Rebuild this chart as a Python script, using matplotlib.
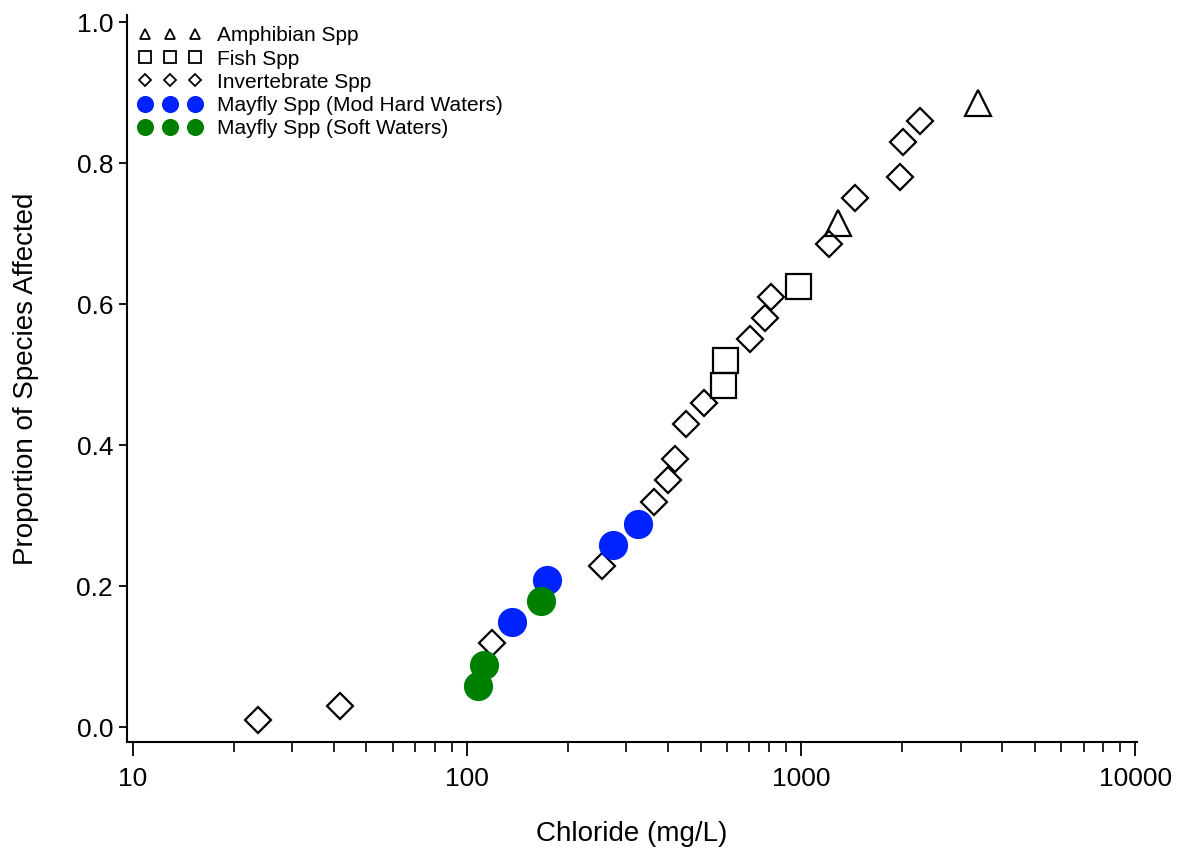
import matplotlib.pyplot as plt
from matplotlib import font_manager
from matplotlib.ticker import LogLocator, NullFormatter, FixedLocator, FixedFormatter

# data (chloride mg/L, proportion affected)
amph_x = [1291, 3390]
amph_y = [0.715, 0.885]

fish_x = [584, 592, 979]
fish_y = [0.485, 0.52, 0.625]

inv_x = [23.7, 41.7, 119, 253, 363, 400, 420, 453, 513, 703, 780, 813, 1213, 1452, 1978, 2019, 2270]
inv_y = [0.01, 0.03, 0.12, 0.228, 0.32, 0.35, 0.38, 0.43, 0.46, 0.55, 0.58, 0.61, 0.685, 0.75, 0.78, 0.83, 0.86]

hard_x = [136, 173, 273, 325]
hard_y = [0.149, 0.209, 0.258, 0.288]

soft_x = [108, 112, 166]
soft_y = [0.058, 0.088, 0.179]

x_ticks = [10, 100, 1000, 10000]
x_labels = ["10", "100", "1000", "10000"]
y_ticks = [0.0, 0.2, 0.4, 0.6, 0.8, 1.0]

names = [f.name for f in font_manager.fontManager.ttflist]
font = "Liberation Sans Narrow" if "Liberation Sans Narrow" in names else "Liberation Sans"
plt.rcParams['font.family'] = [font, 'DejaVu Sans']

fig = plt.figure(figsize=(11.88, 8.56), dpi=100)
ax = fig.add_axes([0.1069, 0.1332, 0.850, 0.8493])

blue = "#0022ff"
green = "#008000"
mew = 1.6

ax.plot(amph_x, amph_y, "^", ms=19, mfc="white", mec="black", mew=mew, label="Amphibian Spp", zorder=3)
ax.plot(fish_x, fish_y, "s", ms=18, mfc="none", mec="black", mew=mew, label="Fish Spp", zorder=3)
ax.plot(inv_x, inv_y, "D", ms=13.5, mfc="none", mec="black", mew=mew, label="Invertebrate Spp", zorder=3)
ax.plot(hard_x, hard_y, "o", ms=21, mfc=blue, mec=blue, mew=0, label="Mayfly Spp (Mod Hard Waters)", zorder=4)
ax.plot(soft_x, soft_y, "o", ms=21, mfc=green, mec=green, mew=0, label="Mayfly Spp (Soft Waters)", zorder=4)

ax.set_xscale("log")
ax.set_xlim(9.6, 10100)
ax.set_ylim(-0.021, 1.01)

ax.xaxis.set_major_locator(FixedLocator(x_ticks))
ax.xaxis.set_major_formatter(FixedFormatter(x_labels))
ax.xaxis.set_minor_locator(LogLocator(base=10, subs=range(2, 10)))
ax.xaxis.set_minor_formatter(NullFormatter())
ax.set_yticks(y_ticks)
ax.set_yticklabels([f"{v:.1f}" for v in y_ticks])

for s in ["top", "right"]:
    ax.spines[s].set_visible(False)
for s in ["left", "bottom"]:
    ax.spines[s].set_linewidth(1.5)

ax.tick_params(axis="both", which="major", labelsize=19, width=1.3, direction="out")
ax.tick_params(axis="x", which="major", length=10, pad=8)
ax.tick_params(axis="x", which="minor", length=7, width=1.2)
ax.tick_params(axis="y", which="major", length=6, pad=4)

ax.set_xlabel("Chloride (mg/L)", fontsize=20, va="center")
ax.set_ylabel("Proportion of Species Affected", fontsize=20, va="center")
ax.xaxis.set_label_coords(0.5, -0.127)
ax.yaxis.set_label_coords(-0.10, 0.50)

leg = ax.legend(loc="upper left", bbox_to_anchor=(0.0, 1.0), frameon=False, numpoints=3,
                fontsize=15, handlelength=3.0, handletextpad=0.75, labelspacing=0.2,
                borderaxespad=0.15)
leg_sizes = [7, 8, 6, 11, 11]
for h, s in zip(leg.legend_handles, leg_sizes):
    h.set_markersize(s)
    h.set_markeredgewidth(1.3)

fig.savefig("out.png", dpi=100)
